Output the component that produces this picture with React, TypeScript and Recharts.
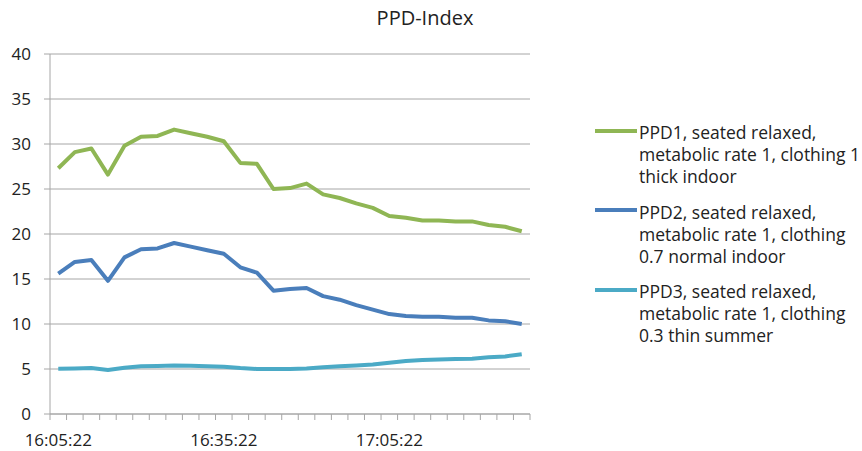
import React from 'react';
import { LineChart, Line, XAxis, YAxis, CartesianGrid } from 'recharts';

const times = [
  '16:05:22', '16:08:22', '16:11:22', '16:14:22', '16:17:22', '16:20:22', '16:23:22', '16:26:22',
  '16:29:22', '16:32:22', '16:35:22', '16:38:22', '16:41:22', '16:44:22', '16:47:22', '16:50:22',
  '16:53:22', '16:56:22', '16:59:22', '17:02:22', '17:05:22', '17:08:22', '17:11:22', '17:14:22',
  '17:17:22', '17:20:22', '17:23:22', '17:26:22', '17:29:22',
];

const ppd1 = [
  27.3, 29.1, 29.5, 26.6, 29.8, 30.8, 30.9, 31.6, 31.2, 30.8, 30.3, 27.9, 27.8, 25.0, 25.1,
  25.6, 24.4, 24.0, 23.4, 22.9, 22.0, 21.8, 21.5, 21.5, 21.4, 21.4, 21.0, 20.8, 20.3,
];
const ppd2 = [
  15.6, 16.9, 17.1, 14.8, 17.4, 18.3, 18.4, 19.0, 18.6, 18.2, 17.8, 16.3, 15.7, 13.7, 13.9,
  14.0, 13.1, 12.7, 12.1, 11.6, 11.1, 10.9, 10.8, 10.8, 10.7, 10.7, 10.4, 10.3, 10.0,
];
const ppd3 = [
  5.03, 5.05, 5.1, 4.9, 5.15, 5.3, 5.33, 5.4, 5.35, 5.3, 5.25, 5.1, 5.0, 5.0, 5.0,
  5.05, 5.2, 5.3, 5.4, 5.5, 5.7, 5.9, 6.0, 6.05, 6.1, 6.15, 6.3, 6.4, 6.65,
];

const yTicks = [0, 5, 10, 15, 20, 25, 30, 35, 40];

const seriesKeys = ['ppd1', 'ppd2', 'ppd3'];
const seriesNames = [
  'PPD1, seated relaxed,\nmetabolic rate 1, clothing 1\nthick indoor',
  'PPD2, seated relaxed,\nmetabolic rate 1, clothing\n0.7 normal indoor',
  'PPD3, seated relaxed,\nmetabolic rate 1, clothing\n0.3 thin summer',
];
const colors = ['#8fb654', '#4a7ebb', '#4baac6'];

const data = times.map((t, i) => ({ time: t, ppd1: ppd1[i], ppd2: ppd2[i], ppd3: ppd3[i] }));

const FONT = '"Open Sans", sans-serif';
const TEXT = '#222';
const GRID = '#a6a6a6';

// plot area is 480px wide, split into one band per category (Excel style)
const PLOT_W = 480;
const HALF = PLOT_W / times.length / 2;

function XTick(props: any) {
  const { x, y, index, payload } = props;
  return (
    <g>
      <line x1={x - HALF} x2={x - HALF} y1={y} y2={y + 6} stroke={GRID} />
      {index === times.length - 1 && (
        <line x1={x + HALF} x2={x + HALF} y1={y} y2={y + 6} stroke={GRID} />
      )}
      {index % 10 === 0 && (
        <text x={x} y={y + 32} textAnchor="middle" fill={TEXT} fontSize={17} fontFamily={FONT}>
          {payload.value}
        </text>
      )}
    </g>
  );
}

export default function App() {
  return (
    <div style={{ position: 'absolute', left: 0, top: 0, width: 862, height: 451, background: '#fff', fontFamily: FONT }}>
      <div
        style={{
          position: 'absolute', left: 325, top: 8, width: 200, textAlign: 'center',
          fontSize: 20, lineHeight: '20px', color: TEXT,
        }}
      >
        PPD-Index
      </div>

      <LineChart width={862} height={451} data={data} margin={{ top: 54, right: 332, bottom: 0, left: 0 }}>
        <CartesianGrid vertical={false} stroke={GRID} />
        <XAxis
          dataKey="time"
          interval={0}
          padding={{ left: HALF, right: HALF }}
          axisLine={{ stroke: GRID }}
          tickLine={false}
          tickSize={0}
          tickMargin={0}
          height={37}
          tick={<XTick />}
        />
        <YAxis
          domain={[0, 40]}
          ticks={yTicks}
          width={50}
          axisLine={{ stroke: GRID }}
          tickLine={{ stroke: GRID }}
          tickSize={6}
          tickMargin={13}
          tick={{ fill: TEXT, fontSize: 17, fontFamily: FONT }}
        />
        {seriesKeys.map((k, i) => (
          <Line
            key={k}
            type="linear"
            dataKey={k}
            stroke={colors[i]}
            strokeWidth={4}
            strokeLinejoin="round"
            dot={false}
            activeDot={false}
            isAnimationActive={false}
          />
        ))}
      </LineChart>

      <div style={{ position: 'absolute', left: 595, top: 121, fontSize: 17.5, lineHeight: '22px', color: TEXT }}>
        {seriesNames.map((name, i) => (
          <div key={seriesKeys[i]} style={{ display: 'flex', marginBottom: 13.5 }}>
            <div style={{ position: 'relative', width: 42, height: 22, marginRight: 2, flexShrink: 0 }}>
              <div style={{ position: 'absolute', left: 0, top: 7.5, width: 42, height: 4, background: colors[i] }} />
            </div>
            <div style={{ whiteSpace: 'pre' }}>{name}</div>
          </div>
        ))}
      </div>
    </div>
  );
}
